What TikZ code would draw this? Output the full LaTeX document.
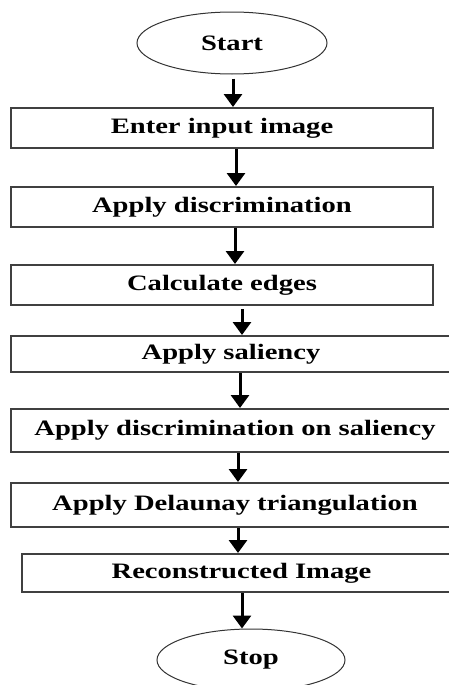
\documentclass[tikz,border=0pt]{standalone}
\usepackage{fontspec}
\setmainfont{Liberation Serif}[FakeStretch=1.3]
\usetikzlibrary{shapes.geometric,arrows.meta,calc}
\tikzstyle{arrow} = [line width=1.5pt,-{Triangle[width=9pt,length=6.5pt]}]
\tikzstyle{process} = [rectangle,draw=black!75,line width=1pt,inner sep=0pt,font=\fontsize{11}{13}\selectfont\bfseries]
\tikzstyle{terminal} = [ellipse,draw=black!80,line width=0.5pt,minimum width=95pt,minimum height=31pt,inner sep=0pt,font=\fontsize{11}{13}\selectfont\bfseries]

\begin{document}
\begin{tikzpicture}[x=0.5pt,y=-0.5pt]
\useasboundingbox (0,0) rectangle (449,685);
\node[terminal] (start) at (232,43) {Start};
\node[process,minimum width=211pt,minimum height=20pt] (enter) at (222,128) {Enter input image};
\node[process,minimum width=211pt,minimum height=20pt] (disc) at (222,207) {Apply discrimination};
\node[process,minimum width=211pt,minimum height=20pt] (edges) at (222,285) {Calculate edges};
\node[process,minimum width=220pt,minimum height=18pt] (sal) at (231,354) {Apply saliency};
\node[process,minimum width=224pt,minimum height=21.5pt] (discsal) at (235,430.5) {Apply discrimination on saliency};
\node[process,minimum width=224pt,minimum height=22pt] (delaunay) at (235,505) {Apply Delaunay triangulation};
\node[process,minimum width=219.5pt,minimum height=19pt] (recon) at (241.5,573) {Reconstructed Image};
\node[terminal,minimum width=94pt] (stop) at (251,660) {Stop};

% arrows between the steps
\draw[arrow] ($(start.south)+(1,4)$) coordinate (a1) -- (a1 |- enter.north);
\draw[arrow] ($(enter.south)+(14,0)$) coordinate (a2) -- (a2 |- disc.north);
\draw[arrow] ($(disc.south)+(13,0)$) coordinate (a3) -- (a3 |- edges.north);
\draw[arrow] ($(edges.south)+(20,3)$) coordinate (a4) -- (a4 |- sal.north);
\draw[arrow] ($(sal.south)+(9,0)$) coordinate (a5) -- (a5 |- discsal.north);
\draw[arrow] ($(discsal.south)+(3,0)$) coordinate (a6) -- (a6 |- delaunay.north);
\draw[arrow] ($(delaunay.south)+(3,0)$) coordinate (a7) -- (a7 |- recon.north);
\draw[arrow] ($(recon.south)+(0.5,0)$) coordinate (a8) -- (a8 |- stop.north);
\end{tikzpicture}
\end{document}
